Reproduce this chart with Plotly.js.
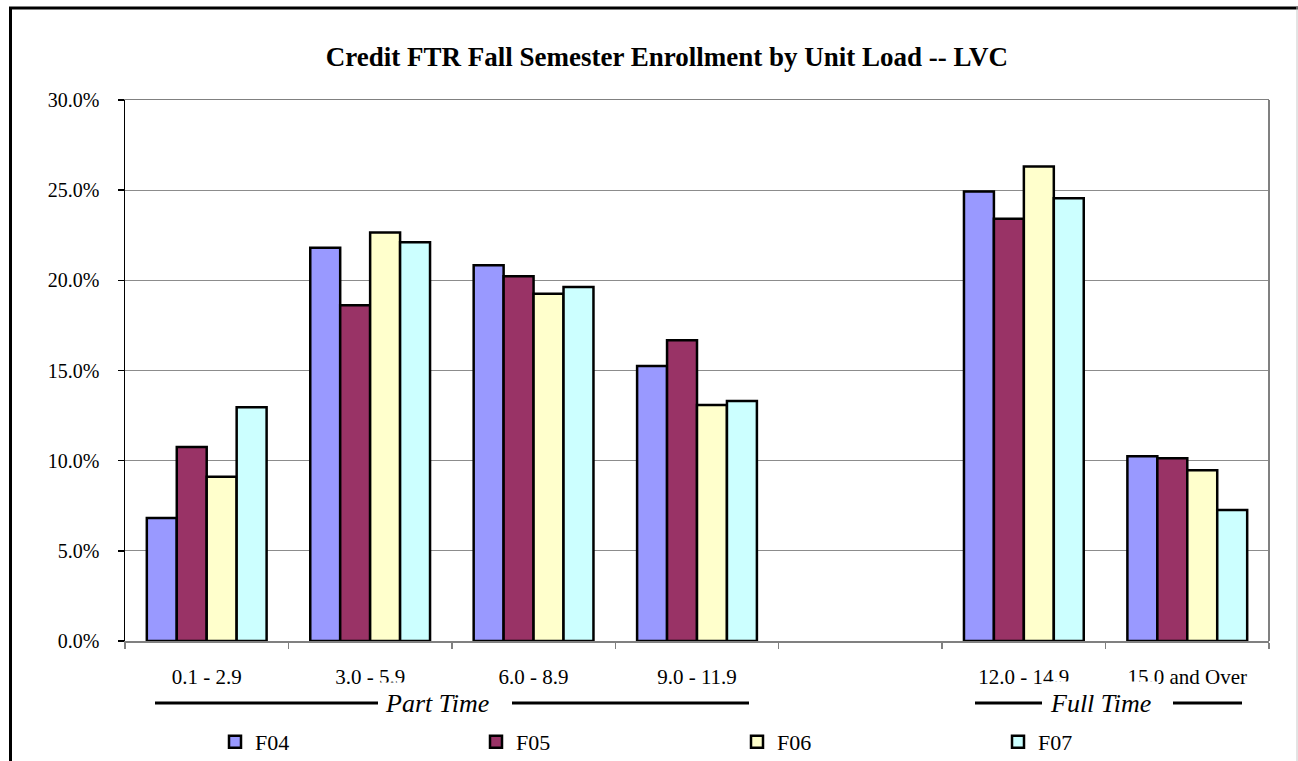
<!DOCTYPE html>
<html>
<head>
<meta charset="utf-8">
<script src="https://cdn.plot.ly/plotly-3.0.1.min.js"></script>
<style>html,body{margin:0;padding:0;background:#fff;}#chart{width:1298px;height:761px;}</style>
</head>
<body>
<div id="chart"></div>
<script>
const categories = ["0.1 - 2.9", "3.0 - 5.9", "6.0 - 8.9", "9.0 - 11.9", " ", "12.0 - 14.9", "15.0 and Over"];
const seriesNames = ["F04", "F05", "F06", "F07"];
const F04 = [6.82, 21.81, 20.84, 15.25, null, 24.92, 10.24];
const F05 = [10.76, 18.62, 20.23, 16.68, null, 23.41, 10.13];
const F06 = [9.11, 22.65, 19.26, 13.09, null, 26.31, 9.47];
const F07 = [12.96, 22.11, 19.63, 13.31, null, 24.55, 7.27];
const yTickVals = [0, 5, 10, 15, 20, 25, 30];
const yTickText = ["0.0%", "5.0%", "10.0%", "15.0%", "20.0%", "25.0%", "30.0%"];

const colors = ["#9999FF", "#993366", "#FFFFCC", "#CCFFFF"];
const serif = "Times New Roman, Liberation Serif, serif";

const series = [F04, F05, F06, F07];
const data = series.map((vals, i) => ({
  type: "bar",
  name: seriesNames[i],
  x: categories,
  y: vals,
  marker: { color: colors[i], line: { color: "#000000", width: 2.5 } },
  hoverinfo: "x+y+name"
}));

// plot area in px: left 125, right 1269, top 100, bottom 641
const L = 125, R = 1269, T = 100, B = 641;
const px = v => (v - L) / (R - L);
const py = v => (B - v) / (B - T);

function hline(x0, x1, y, w, c) {
  return { type: "line", xref: "paper", yref: "paper", x0: px(x0), x1: px(x1), y0: py(y), y1: py(y),
           line: { color: c || "#000000", width: w } };
}
function vline(x, y0, y1, w, c) {
  return { type: "line", xref: "paper", yref: "paper", x0: px(x), x1: px(x), y0: py(y0), y1: py(y1),
           line: { color: c || "#000000", width: w } };
}

const layout = {
  width: 1298, height: 761,
  margin: { l: L, r: 1298 - R, t: T, b: 761 - B, pad: 0, autoexpand: false },
  paper_bgcolor: "#ffffff",
  plot_bgcolor: "#ffffff",
  font: { family: serif, color: "#000000" },
  title: {
    text: "<b>Credit FTR Fall Semester Enrollment by Unit Load -- LVC</b>",
    font: { family: serif, size: 27, color: "#000000" },
    xref: "container", yref: "container",
    x: 667 / 1298, xanchor: "center",
    y: 1 - 57 / 761, yanchor: "middle"
  },
  barmode: "group",
  bargap: 0.267,
  bargroupgap: 0,
  showlegend: true,
  legend: {
    orientation: "h",
    x: px(215), xanchor: "left",
    y: py(742), yanchor: "middle",
    entrywidth: 216, entrywidthmode: "pixels",
    font: { family: serif, size: 22, color: "#000000" },
    bgcolor: "rgba(0,0,0,0)",
    traceorder: "normal"
  },
  xaxis: {
    type: "category",
    categoryorder: "array",
    categoryarray: categories,
    showgrid: false,
    showline: true, linecolor: "#808080", linewidth: 1.5,
    mirror: true,
    ticks: "outside", tickson: "boundaries", ticklen: 6, tickcolor: "#808080", tickwidth: 1.5,
    tickfont: { family: serif, size: 21, color: "#000000" },
    ticklabelstandoff: 16,
    fixedrange: true
  },
  yaxis: {
    range: [0, 30],
    tickvals: yTickVals,
    ticktext: yTickText,
    showgrid: true, gridcolor: "#8c8c8c", gridwidth: 1,
    zeroline: false,
    showline: true, linecolor: "#000000", linewidth: 1.5,
    ticks: "outside", ticklen: 6, tickcolor: "#000000", tickwidth: 1.5,
    tickfont: { family: serif, size: 20, color: "#000000" },
    ticklabelstandoff: 14,
    fixedrange: true
  },
  shapes: [
    // right border of plot area
    vline(R, T, B, 2, "#808080"),
    // group underline for Part Time
    hline(155, 378, 703, 3),
    hline(512, 749, 703, 3),
    // group underline for Full Time
    hline(975, 1042, 703, 3),
    hline(1173, 1242, 703, 3),
    // outer chart frame
    hline(9, 1298, 8, 3),
    vline(10.5, 7, 761, 3),
    vline(1297, 7, 761, 1, "#c8c8c8")
  ],
  annotations: [
    { text: "<i>Part Time</i>", xref: "paper", yref: "paper", x: px(437), y: py(703),
      xanchor: "center", yanchor: "middle", showarrow: false, bgcolor: "#ffffff", borderpad: 6,
      font: { family: serif, size: 26, color: "#000000" } },
    { text: "<i>Full Time</i>", xref: "paper", yref: "paper", x: px(1100), y: py(703),
      xanchor: "center", yanchor: "middle", showarrow: false, bgcolor: "#ffffff", borderpad: 7,
      font: { family: serif, size: 26, color: "#000000" } }
  ]
};

Plotly.newPlot("chart", data, layout, { staticPlot: true, displayModeBar: false });
</script>
</body>
</html>
